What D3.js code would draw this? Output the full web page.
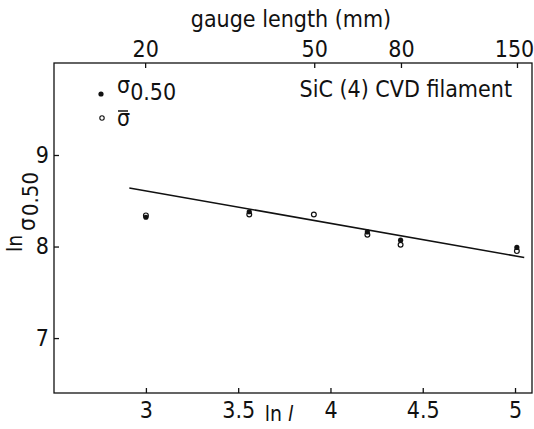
<!DOCTYPE html>
<html>
<head>
<meta charset="utf-8">
<script src="https://cdn.jsdelivr.net/npm/d3@7"></script>
<style>
  body { margin: 0; background: #fff; }
  svg text { font-family: "Liberation Sans Narrow", "DejaVu Sans Condensed", sans-serif; fill: #111; }
</style>
</head>
<body>
<div id="chart"></div>
<script>
// data
var lnL = [3.00, 3.56, 3.91, 4.20, 4.38, 5.01]
var medianVals = [8.32, 8.38, null, 8.16, 8.07, 7.99]   // sigma 0.50 (filled)
var meanVals = [8.34, 8.35, 8.35, 8.13, 8.02, 7.95]     // sigma bar (open)
var fitLine = [[2.91, 8.64], [5.05, 7.88]]
var bottomTicks = [3, 3.5, 4, 4.5, 5]
var leftTicks = [7, 8, 9]
var gaugeTicks = [20, 50, 80, 150]

var w = 534, h = 429
var margin = { top: 63, right: 2, bottom: 36, left: 54 }

var svg = d3.select("#chart")
  .append("svg")
  .attr("width", w)
  .attr("height", h)

var xScale = d3.scaleLinear()
  .domain([2.502, 5.092])
  .range([margin.left, w - margin.right])

var yScale = d3.scaleLinear()
  .domain([6.40, 10.005])
  .range([h - margin.bottom, margin.top])

// top axis is gauge length on a log scale, same pixels as ln l
var gScale = d3.scaleLog()
  .domain([Math.exp(2.502), Math.exp(5.092)])
  .range([margin.left, w - margin.right])

// frame
svg.append("rect")
  .attr("x", margin.left)
  .attr("y", margin.top)
  .attr("width", w - margin.right - margin.left)
  .attr("height", h - margin.bottom - margin.top)
  .attr("fill", "none")
  .attr("stroke", "#111")
  .attr("stroke-width", 1.3)

var xAxis = d3.axisBottom(xScale)
  .tickValues(bottomTicks)
  .tickSize(-5)
  .tickPadding(9)
  .tickFormat(d => d)

svg.append("g")
  .attr("transform", `translate(0,${h - margin.bottom})`)
  .call(xAxis)
  .call(g => g.select(".domain").remove())
  .selectAll("text")
  .style("font-size", "23px")

var yAxis = d3.axisLeft(yScale)
  .tickValues(leftTicks)
  .tickSize(-5)
  .tickPadding(5)
  .tickFormat(d3.format("d"))

svg.append("g")
  .attr("transform", `translate(${margin.left},0)`)
  .call(yAxis)
  .call(g => g.select(".domain").remove())
  .selectAll("text")
  .style("font-size", "23px")

var topAxis = d3.axisTop(gScale)
  .tickValues(gaugeTicks)
  .tickSize(-5)
  .tickPadding(6)
  .tickFormat(d => d)

svg.append("g")
  .attr("transform", `translate(0,${margin.top})`)
  .call(topAxis)
  .call(g => g.select(".domain").remove())
  .selectAll("text")
  .style("font-size", "23px")
  .attr("dx", d => d === 150 ? -3 : 0)

svg.selectAll(".tick line").attr("stroke", "#111").attr("stroke-width", 1.3)

// axis titles
svg.append("text")
  .attr("x", 291)
  .attr("y", 27)
  .attr("text-anchor", "middle")
  .style("font-size", "23px")
  .text("gauge length (mm)")

var xl = svg.append("text")
  .attr("x", 279)
  .attr("y", 421)
  .attr("text-anchor", "middle")
  .style("font-size", "21px")
xl.append("tspan").text("ln ")
xl.append("tspan").style("font-style", "italic").text("l")

// y title, rotated
svg.append("text")
  .attr("transform", "translate(22,252) rotate(-90)")
  .style("font-size", "21px")
  .text("ln")
svg.append("text")
  .attr("transform", "translate(35,231) rotate(-90)")
  .style("font-size", "23px")
  .text("σ")
svg.append("text")
  .attr("transform", "translate(38,216) rotate(-90)")
  .style("font-size", "22px")
  .text("0.50")

// fitted line
svg.append("path")
  .datum(fitLine)
  .attr("d", d3.line().x(d => xScale(d[0])).y(d => yScale(d[1])))
  .attr("fill", "none")
  .attr("stroke", "#111")
  .attr("stroke-width", 1.6)

// points
var medianPts = lnL.map((x, i) => [x, medianVals[i]]).filter(d => d[1] != null)
var meanPts = lnL.map((x, i) => [x, meanVals[i]])

svg.selectAll(".mean")
  .data(meanPts)
  .enter()
  .append("circle")
  .attr("class", "mean")
  .attr("cx", d => xScale(d[0]))
  .attr("cy", d => yScale(d[1]))
  .attr("r", 2.4)
  .attr("fill", "#fff")
  .attr("stroke", "#111")
  .attr("stroke-width", 1.2)

svg.selectAll(".median")
  .data(medianPts)
  .enter()
  .append("circle")
  .attr("class", "median")
  .attr("cx", d => xScale(d[0]))
  .attr("cy", d => yScale(d[1]))
  .attr("r", 2.6)
  .attr("fill", "#111")

// legend
svg.append("circle").attr("cx", 101).attr("cy", 94).attr("r", 2.6).attr("fill", "#111")
svg.append("circle").attr("cx", 102).attr("cy", 118).attr("r", 2.2)
  .attr("fill", "#fff").attr("stroke", "#111").attr("stroke-width", 1.1)

var l1 = svg.append("text").attr("x", 117).attr("y", 93).style("font-size", "23px")
l1.append("tspan").text("σ")
l1.append("tspan").attr("dy", 7).text("0.50")

svg.append("text").attr("x", 117).attr("y", 126).style("font-size", "23px").text("σ")
svg.append("line").attr("x1", 118).attr("x2", 128).attr("y1", 111).attr("y2", 111)
  .attr("stroke", "#111").attr("stroke-width", 1.5)

svg.append("text")
  .attr("x", 512)
  .attr("y", 97)
  .attr("text-anchor", "end")
  .style("font-size", "23px")
  .text("SiC (4) CVD filament")
</script>
</body>
</html>
